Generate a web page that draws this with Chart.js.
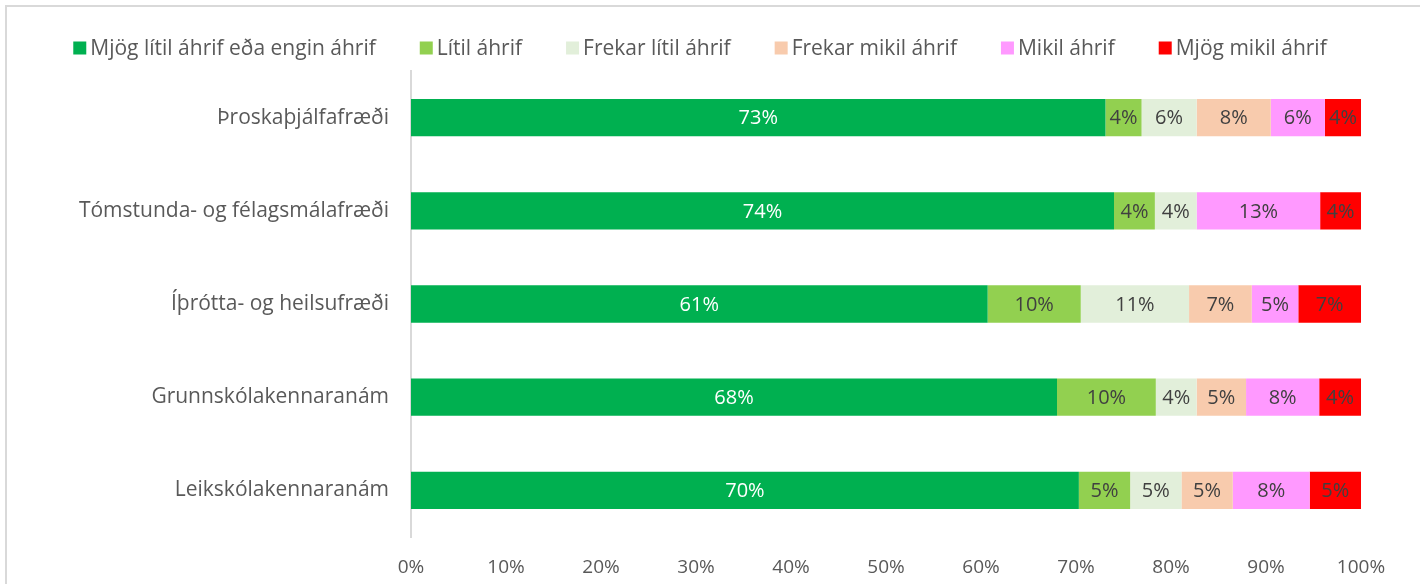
<!DOCTYPE html>
<html>
<head>
<meta charset="utf-8">
<script src="https://cdn.jsdelivr.net/npm/chart.js@4"></script>
<style>
  html, body { margin: 0; padding: 0; background: #fff; }
  #wrap { position: relative; width: 1420px; height: 584px; overflow: hidden; }
  #frame { position: absolute; left: 5px; top: 5px; width: 1420px; height: 600px;
           border-top: 2px solid #d9d9d9; border-left: 2px solid #d9d9d9; }
  canvas { position: absolute; left: 0; top: 0; }
</style>
</head>
<body>
<div id="wrap">
  <div id="frame"></div>
  <canvas id="chart" width="1420" height="584"></canvas>
</div>
<script>
// Data (percent of each programme)
const categories = ['Þroskaþjálfafræði', 'Tómstunda- og félagsmálafræði', 'Íþrótta- og heilsufræði', 'Grunnskólakennaranám', 'Leikskólakennaranám'];
const seriesNames = ['Mjög lítil áhrif eða engin áhrif', 'Lítil áhrif', 'Frekar lítil áhrif', 'Frekar mikil áhrif', 'Mikil áhrif', 'Mjög mikil áhrif'];
const veryLittle = [73.1, 74.0, 60.7, 68.0, 70.3];
const little = [3.8, 4.3, 9.8, 10.4, 5.4];
const ratherLittle = [5.8, 4.4, 11.4, 4.3, 5.4];
const ratherMuch = [7.8, 0, 6.6, 5.2, 5.4];
const much = [5.7, 13.0, 4.9, 7.7, 8.1];
const veryMuch = [3.8, 4.3, 6.6, 4.4, 5.4];
const xTicks = [0, 10, 20, 30, 40, 50, 60, 70, 80, 90, 100];

const colors = ['#00B050', '#92D050', '#E2EFDA', '#F8CBAD', '#FF99FF', '#FF0000'];
const labelColors = ['#ffffff', '#404040', '#404040', '#404040', '#404040', '#404040'];
const allSeries = [veryLittle, little, ratherLittle, ratherMuch, much, veryMuch];

const FONT = '"Open Sans", Lato, sans-serif';

// draw the percentage inside every bar segment
const barLabels = {
    id: 'barLabels',
    afterDatasetsDraw(chart) {
        const ctx = chart.ctx;
        ctx.save();
        ctx.font = '20px ' + FONT;
        ctx.textAlign = 'center';
        ctx.textBaseline = 'middle';
        chart.data.datasets.forEach((ds, i) => {
            const meta = chart.getDatasetMeta(i);
            meta.data.forEach((bar, j) => {
                const v = ds.data[j];
                if (!v) return;
                const p = bar.getCenterPoint();
                ctx.fillStyle = labelColors[i];
                ctx.fillText(Math.round(v) + '%', p.x, p.y + 1);
            });
        });
        ctx.restore();
    }
};

// one-line legend like the Excel one (small box, short gap to the text)
const topLegend = {
    id: 'topLegend',
    afterDraw(chart) {
        const ctx = chart.ctx;
        const box = 13, gap = 4, space = 44, cy = 48;
        ctx.save();
        ctx.font = '21px ' + FONT;
        ctx.textBaseline = 'middle';
        const items = chart.data.datasets.map(ds => ({
            text: ds.label, color: ds.backgroundColor, w: ctx.measureText(ds.label).width
        }));
        const total = items.reduce((s, it) => s + box + gap + it.w, 0) + space * (items.length - 1);
        let x = 700 - total / 2;
        items.forEach(it => {
            ctx.fillStyle = it.color;
            ctx.fillRect(x, cy - box / 2, box, box);
            ctx.fillStyle = '#595959';
            ctx.fillText(it.text, x + box + gap, cy + 1);
            x += box + gap + it.w + space;
        });
        ctx.restore();
    }
};

new Chart(document.getElementById('chart'), {
    type: 'bar',
    data: {
        labels: categories,
        datasets: allSeries.map((d, i) => ({
            label: seriesNames[i],
            data: d,
            backgroundColor: colors[i],
            borderWidth: 0,
            categoryPercentage: 1,
            barPercentage: 0.4
        }))
    },
    options: {
        indexAxis: 'y',
        responsive: false,
        animation: false,
        layout: { padding: { left: 0, right: 59, top: 71, bottom: 0 } },
        plugins: {
            legend: { display: false },
            tooltip: { enabled: false }
        },
        scales: {
            x: {
                stacked: true,
                min: 0,
                max: 100,
                afterBuildTicks: (scale) => { scale.ticks = xTicks.map(v => ({ value: v })); },
                afterFit: (scale) => { scale.height = 47; },
                grid: { display: false, drawTicks: false },
                border: { display: false },
                ticks: {
                    color: '#595959',
                    font: { family: FONT, size: 19 },
                    padding: 19,
                    callback: (v) => v + '%'
                }
            },
            y: {
                stacked: true,
                afterFit: (scale) => { scale.width = 411; },
                grid: { display: false, drawTicks: false },
                border: { display: true, color: '#d9d9d9', width: 2 },
                ticks: {
                    color: '#595959',
                    font: { family: FONT, size: 21 },
                    padding: 22
                }
            }
        }
    },
    plugins: [barLabels, topLegend]
});
</script>
</body>
</html>
